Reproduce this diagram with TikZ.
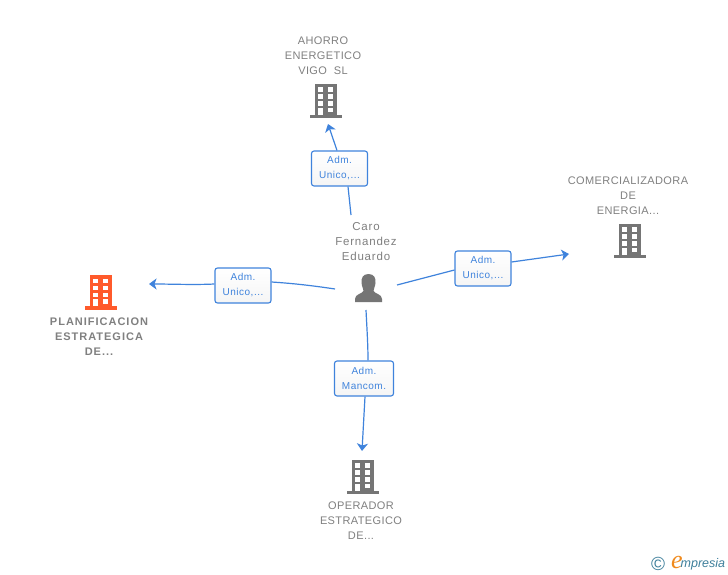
\documentclass[tikz,border=0pt]{standalone}
\usepackage{fontspec}
\setmainfont{Liberation Sans}
\newfontfamily\entityfont[LetterSpace=3.6]{Liberation Sans}
\newfontfamily\personfont[LetterSpace=7]{Liberation Sans}
\newfontfamily\boldentityfont[LetterSpace=9]{Liberation Sans Bold}
\newfontfamily\rolefont[LetterSpace=5]{Liberation Sans}
\newfontfamily\logoefont{Liberation Serif Italic}
\usetikzlibrary{arrows.meta}
\definecolor{linkblue}{HTML}{3F83DC}
\definecolor{labelgray}{HTML}{808080}
\definecolor{icongray}{HTML}{757575}
\definecolor{iconorange}{HTML}{FF5A2B}
\definecolor{logoteal}{HTML}{3E7F9B}
\definecolor{logoorange}{HTML}{F08A1D}
\tikzset{
  x=1pt,y=-1pt,
  entity/.style={text=labelgray,font=\entityfont\fontsize{11}{15}\selectfont,align=center,inner sep=0pt},
  entitybold/.style={entity,font=\boldentityfont\fontsize{11}{15}\selectfont},
  rolebox/.style={draw=linkblue,line width=1.1pt,rounded corners=2.5pt,top color=white,bottom color=black!4,
    text=linkblue,font=\rolefont\fontsize{10}{15}\selectfont,align=center,inner sep=0pt,minimum height=35pt},
  link/.style={draw=linkblue,line width=1.2pt},
  linkarrow/.style={link,-{Stealth[length=7.5pt,width=11pt,inset=2pt]}},
  pics/building/.style={code={
    \fill[#1] (-11.3,-17) rectangle (11,14.5);
    \fill[#1] (-16,14) rectangle (16,17.5);
    \foreach \yy in {-13.5,-6.5,0.5}{
      \fill[white] (-8.3,\yy) rectangle (-2.7,\yy+4.6);
      \fill[white] (1.7,\yy) rectangle (7.3,\yy+4.6);
    }
    \fill[white] (-8.3,7) rectangle (-2.7,14);
    \fill[white] (1.7,7) rectangle (7.3,11.5);
  }},
}
\begin{document}
\begin{tikzpicture}
\useasboundingbox (0,0) rectangle (728,575);
\fill[white] (0,0) rectangle (728,575);

% entity labels
\node[entity] (ahorro) at (323,56) {AHORRO\\ENERGETICO\\VIGO\ \ SL};
\node[entity] (comer) at (628,196) {COMERCIALIZADORA\\DE\\ENERGIA...};
\node[entitybold] (plan) at (99,337) {PLANIFICACION\\ESTRATEGICA\\DE...};
\node[entity] (oper) at (361,521) {OPERADOR\\ESTRATEGICO\\DE...};
\node[entity,font=\personfont\fontsize{11.5}{15}\selectfont] (caro) at (366,242) {Caro\\Fernandez\\Eduardo};

% icons
\pic at (326,101) {building=icongray};
\pic at (630,240.5) {building=icongray};
\pic at (101,292) {building=iconorange};
\pic at (363,476.5) {building=icongray};

% person
\node[inner sep=0pt,minimum size=0pt] (person) at (368,288) {};
\fill[icongray] (368.5,274) .. controls (374,274) and (376,278) .. (375.5,283)
  .. controls (375,287) and (373.5,289) .. (373.5,291)
  .. controls (375,294) and (382,294) .. (382,299) -- (382,302) -- (355,302) -- (355,299)
  .. controls (355,294) and (362,294) .. (363.5,291)
  .. controls (363.5,289) and (362,287) .. (361.5,283)
  .. controls (361,278) and (363,274) .. (368.5,274) -- cycle;

% role boxes
\node[rolebox,minimum width=56pt] (b1) at (339.5,168.5) {Adm.\\Unico,...};
\node[rolebox,minimum width=56pt] (b2) at (243,285.5) {Adm.\\Unico,...};
\node[rolebox,minimum width=56pt] (b3) at (483,268.5) {Adm.\\Unico,...};
\node[rolebox,minimum width=59pt] (b4) at (364,378.5) {Adm.\\Mancom.};

% free ends
\coordinate (p1) at (351,215);
\coordinate (p2) at (335,289);
\coordinate (p3) at (397,285);
\coordinate (p4) at (366,310);
\coordinate (t1) at (328,124);
\coordinate (t2) at (149,284);
\coordinate (t3) at (569,254);
\coordinate (t4) at (362,451);

% connectors
\draw[link] (p1) -- ([xshift=8.5pt]b1.south);
\draw[linkarrow] ([xshift=-2.5pt]b1.north) -- (t1);
\draw[link] (p2) .. controls (315,286) and (295,283.5) .. ([yshift=3.5pt]b2.east);
\draw[linkarrow] ([yshift=1.5pt]b2.west) .. controls (195,285) and (170,284) .. (t2);
\draw[link] (p3) -- ([yshift=-1.5pt]b3.west);
\draw[linkarrow] ([yshift=6.5pt]b3.east) -- (t3);
\draw[link] (p4) .. controls (367,330) and (368,345) .. ([xshift=4pt]b4.north);
\draw[linkarrow] ([xshift=1pt]b4.south) -- (t4);

% logo
\node[inner sep=0pt,text=logoteal,font=\fontsize{19}{19}\selectfont] (copy) at (658,564) {©};
\node[inner sep=0pt,text=logoorange,font=\logoefont\fontsize{26}{26}\selectfont] (elogo) at (677,562.5) {e};
\node[inner sep=0pt,anchor=west,text=logoteal,font=\fontsize{12.5}{12}\selectfont\itshape] (mpresia) at (680.5,564.5) {mpresia};
\end{tikzpicture}
\end{document}
